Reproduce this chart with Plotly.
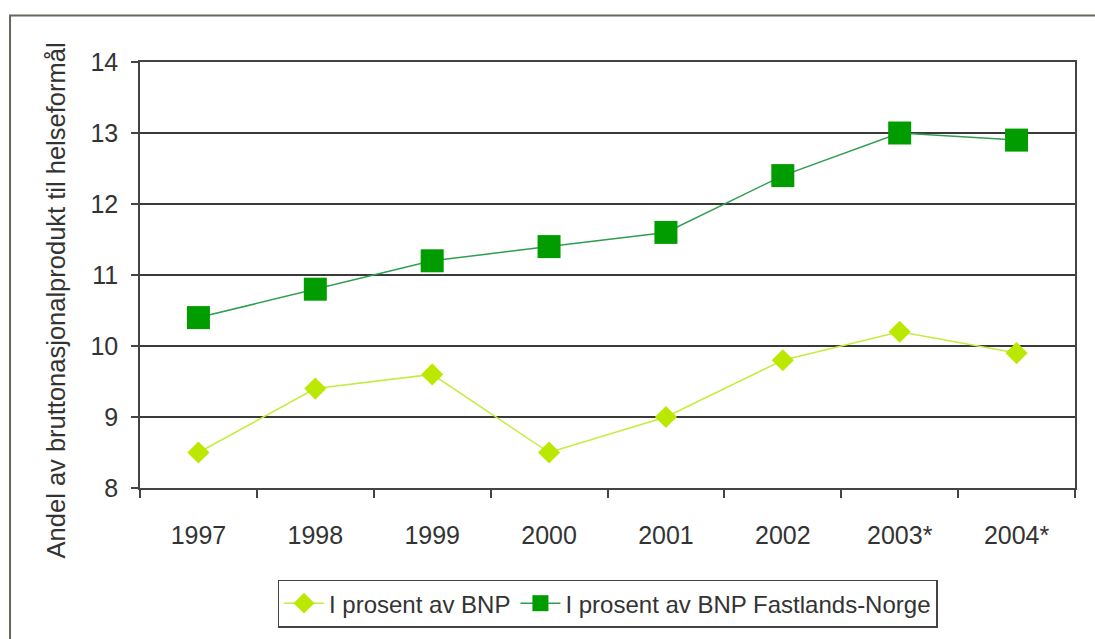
import plotly.graph_objects as go

# Helseutgifter som andel av BNP, 1997-2004
years = ["1997", "1998", "1999", "2000", "2001", "2002", "2003*", "2004*"]
andel_bnp = [8.5, 9.4, 9.6, 8.5, 9.0, 9.8, 10.2, 9.9]
andel_bnp_fastland = [10.4, 10.8, 11.2, 11.4, 11.6, 12.4, 13.0, 12.9]

y_ticks = [8, 9, 10, 11, 12, 13, 14]

FONT = "Liberation Sans, Arial, sans-serif"
TEXT = "#333333"
AXIS = "#444444"

fig = go.Figure()

fig.add_trace(go.Scatter(
    x=years, y=andel_bnp, name="I prosent av BNP",
    mode="lines+markers",
    line=dict(color="#C2EE3A", width=1.5),
    marker=dict(symbol="diamond", size=17, color="#BBE800"),
))

fig.add_trace(go.Scatter(
    x=years, y=andel_bnp_fastland, name="I prosent av BNP Fastlands-Norge",
    mode="lines+markers",
    line=dict(color="#2E9E4F", width=1.5),
    marker=dict(symbol="square", size=23, color="#009C00"),
))

fig.update_layout(
    width=1095, height=639,
    margin=dict(l=140, r=20, t=62, b=145),
    paper_bgcolor="white", plot_bgcolor="white",
    font=dict(family=FONT, color=TEXT, size=24),
    showlegend=True,
    legend=dict(
        orientation="h", x=0.5, xanchor="center", y=-0.215, yanchor="top",
        bordercolor="#444444", borderwidth=1.5,
        font=dict(size=24, color=TEXT), itemwidth=40,
        bgcolor="white",
    ),
    xaxis=dict(
        type="category", range=[-0.5, 7.5], automargin=False,
        showgrid=False, showline=True, linecolor=AXIS, linewidth=1.5,
        mirror=True,
        ticks="outside", ticklen=8, tickcolor=AXIS, tickwidth=1.5,
        tickson="boundaries", ticklabelstandoff=24,
        tickfont=dict(size=25, color=TEXT),
    ),
    yaxis=dict(
        range=[8, 14], tickvals=y_ticks, automargin=False,
        showgrid=True, gridcolor="#3a3a3a", gridwidth=1.5,
        showline=True, linecolor=AXIS, linewidth=1.5, mirror=True,
        ticks="outside", ticklen=7, tickcolor=AXIS, tickwidth=1.5,
        ticklabelstandoff=8, zeroline=False,
        tickfont=dict(size=25, color=TEXT),
    ),
    annotations=[dict(
        text="Andel av bruttonasjonalprodukt til helseformål",
        xref="paper", yref="paper", x=-0.09, y=0.44,
        xanchor="center", yanchor="middle", textangle=-90,
        showarrow=False, font=dict(size=25.5, color=TEXT),
    )],
    shapes=[dict(
        type="rect", xref="paper", yref="paper",
        x0=-0.139, x1=1.2, y0=-0.6, y1=1.109,
        line=dict(color="#66665c", width=2), layer="below",
    )],
)

fig.write_html("out.html")
